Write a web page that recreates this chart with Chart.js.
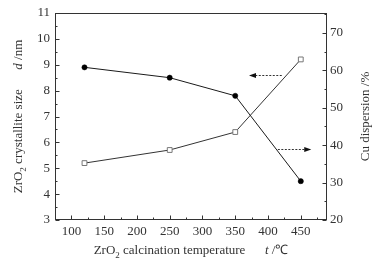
<!DOCTYPE html>
<html>
<head>
<meta charset="utf-8">
<script src="https://cdn.jsdelivr.net/npm/chart.js@4/dist/chart.umd.min.js"></script>
<style>
html,body{margin:0;padding:0;background:#fff;}
#wrap{width:378px;height:263px;position:relative;}
</style>
</head>
<body>
<div id="wrap"><canvas id="c" width="378" height="263"></canvas></div>
<script>
// ---- data ----
const temps = [120, 250, 350, 450];
const crystalliteSize = [8.9, 8.5, 7.8, 4.5];   // left axis, nm
const cuDispersion = [35.2, 38.7, 43.5, 62.9];  // right axis, %
const xTicks = [100, 150, 200, 250, 300, 350, 400, 450];
const leftTicks = [3, 4, 5, 6, 7, 8, 9, 10, 11];
const rightTicks = [20, 30, 40, 50, 60, 70];
// arrows (data units): [xFrom, xTo, y, axis]
const arrowLeft = [421, 371, 8.6, 'y'];
const arrowRight = [415, 466, 38.9, 'y1'];

const FONT = '"Liberation Serif", "Times New Roman", serif';
const INK = '#333';

function drawRuns(ctx, runs, cx, cy, rot, size) {
  ctx.save();
  ctx.translate(cx, cy);
  ctx.rotate(rot);
  ctx.fillStyle = INK;
  ctx.textBaseline = 'alphabetic';
  const fnt = r => (r.italic ? 'italic ' : '') + (r.sub ? Math.round(size * 0.7) : size) + 'px ' + FONT;
  let total = 0;
  runs.forEach(r => { ctx.font = fnt(r); r.w = ctx.measureText(r.t).width; total += r.w; });
  let x = -total / 2;
  const base = size * 0.33;
  runs.forEach(r => {
    ctx.font = fnt(r);
    ctx.fillText(r.t, x, base + (r.sub ? size * 0.28 : 0));
    x += r.w;
  });
  ctx.restore();
}

const decor = {
  id: 'decor',
  afterDraw(chart) {
    const ctx = chart.ctx;
    const a = chart.chartArea;
    const xs = chart.scales.x, ys = chart.scales.y, y1 = chart.scales.y1;
    ctx.save();
    ctx.strokeStyle = '#333';
    ctx.lineWidth = 1;
    const L = Math.round(a.left) + 0.5, R = Math.round(a.right) - 0.5;
    const T = Math.round(a.top) + 0.5, B = Math.round(a.bottom) - 0.5;
    ctx.strokeRect(L, T, R - L, B - T);
    // ticks
    const mids = (arr, lo, hi) => {
      const st = arr[1] - arr[0], out = [];
      for (let v = arr[0] - st / 2; v <= arr[arr.length - 1] + st / 2 + 1e-9; v += st) if (v > lo && v < hi) out.push(v);
      return out;
    };
    ctx.beginPath();
    xTicks.forEach(v => { const p = Math.round(xs.getPixelForValue(v)) + 0.5; ctx.moveTo(p, B); ctx.lineTo(p, B - 4); });
    mids(xTicks, xs.min, xs.max).forEach(v => { const p = Math.round(xs.getPixelForValue(v)) + 0.5; ctx.moveTo(p, B); ctx.lineTo(p, B - 2); });
    leftTicks.forEach(v => { const p = Math.round(ys.getPixelForValue(v)) + 0.5; ctx.moveTo(L, p); ctx.lineTo(L + 4, p); });
    mids(leftTicks, ys.min, ys.max).forEach(v => { const p = Math.round(ys.getPixelForValue(v)) + 0.5; ctx.moveTo(L, p); ctx.lineTo(L + 2, p); });
    rightTicks.forEach(v => { const p = Math.round(y1.getPixelForValue(v)) + 0.5; ctx.moveTo(R, p); ctx.lineTo(R - 4, p); });
    mids(rightTicks, y1.min, y1.max).forEach(v => { const p = Math.round(y1.getPixelForValue(v)) + 0.5; ctx.moveTo(R, p); ctx.lineTo(R - 2, p); });
    ctx.stroke();
    // arrows
    [arrowLeft, arrowRight].forEach(ar => {
      const sc = chart.scales[ar[3]];
      const x0 = xs.getPixelForValue(ar[0]), x1 = xs.getPixelForValue(ar[1]);
      const y = Math.round(sc.getPixelForValue(ar[2])) + 0.5;
      const dir = Math.sign(x1 - x0);
      ctx.beginPath();
      ctx.setLineDash([2, 1.5]);
      ctx.moveTo(x0, y); ctx.lineTo(x1 - dir * 5, y);
      ctx.stroke();
      ctx.setLineDash([]);
      ctx.beginPath();
      ctx.fillStyle = '#111';
      ctx.moveTo(x1, y); ctx.lineTo(x1 - dir * 7, y - 2.5); ctx.lineTo(x1 - dir * 7, y + 2.5); ctx.closePath();
      ctx.fill();
    });
    ctx.restore();
    // titles
    const cyMid = (a.top + a.bottom) / 2, cxMid = (a.left + a.right) / 2;
    drawRuns(ctx, [{t:'ZrO'},{t:'2',sub:true},{t:' calcination temperature      '},{t:'t',italic:true},{t:' /\u2103'}], cxMid, 250, 0, 13);
    drawRuns(ctx, [{t:'ZrO'},{t:'2',sub:true},{t:' crystallite size      '},{t:'d',italic:true},{t:' /nm'}], 18, cyMid, -Math.PI / 2, 13);
    drawRuns(ctx, [{t:'Cu dispersion /%'}], 365, cyMid, -Math.PI / 2, 13);
  }
};

const tickFont = { family: FONT, size: 13 };
new Chart(document.getElementById('c'), {
  type: 'line',
  data: {
    datasets: [
      {
        data: temps.map((t, i) => ({ x: t, y: crystalliteSize[i] })),
        yAxisID: 'y',
        borderColor: '#1a1a1a', borderWidth: 1,
        pointStyle: 'circle', pointRadius: 2.6, pointBackgroundColor: '#000', pointBorderColor: '#000', pointBorderWidth: 0.5,
        tension: 0, fill: false
      },
      {
        data: temps.map((t, i) => ({ x: t, y: cuDispersion[i] })),
        yAxisID: 'y1',
        borderColor: '#333', borderWidth: 1,
        pointStyle: 'rect', pointRadius: 3.4, pointBackgroundColor: '#fff', pointBorderColor: '#777', pointBorderWidth: 1,
        tension: 0, fill: false
      }
    ]
  },
  options: {
    responsive: false, animation: false, devicePixelRatio: 1,
    layout: { padding: { top: 13, left: 0, right: 0, bottom: 0 } },
    plugins: { legend: { display: false }, tooltip: { enabled: false } },
    scales: {
      x: {
        type: 'linear', min: 75, max: 490,
        afterBuildTicks: s => { s.ticks = xTicks.map(v => ({ value: v })); },
        afterFit: s => { s.height = 43; },
        grid: { display: false, drawTicks: false }, border: { display: false },
        ticks: { font: tickFont, color: INK, padding: 4, maxRotation: 0, autoSkip: false }
      },
      y: {
        type: 'linear', position: 'left', min: 3, max: 11,
        afterBuildTicks: s => { s.ticks = leftTicks.map(v => ({ value: v })); },
        afterFit: s => { s.width = 55; },
        grid: { display: false, drawTicks: false }, border: { display: false },
        ticks: { font: tickFont, color: INK, padding: 5, autoSkip: false }
      },
      y1: {
        type: 'linear', position: 'right', min: 20, max: 75.3,
        afterBuildTicks: s => { s.ticks = rightTicks.map(v => ({ value: v })); },
        afterFit: s => { s.width = 51; },
        grid: { display: false, drawTicks: false }, border: { display: false },
        ticks: { font: tickFont, color: INK, padding: 3, autoSkip: false }
      }
    }
  },
  plugins: [decor]
});
</script>
</body>
</html>
